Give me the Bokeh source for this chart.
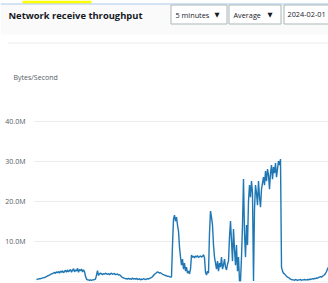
from bokeh.plotting import figure
from bokeh.layouts import column
from bokeh.models import Range1d, FixedTicker
from bokeh.embed import file_html
from bokeh.resources import INLINE
from bokeh.core.properties import value

# ---- data (MBytes/second, 5-minute averages) ----
seg_early = [0.4,0.5,0.5,0.6,0.6,0.7,0.8,0.8,0.9,1.0,1.1,1.3,1.4,1.5,1.7,1.8,1.9]
seg_morning = [2.0,2.2,1.9,2.3,2.1,2.4,2.0,2.5,2.2,2.6,2.1,2.4,2.7,2.2,2.8,2.3,
               2.6,2.9,2.2,2.7,3.1,2.3,2.8,2.5,3.2,2.2,2.9,2.6,3.0,2.3,2.8,2.4]
seg_dip1 = [1.2,0.5,0.3,0.3,0.2,0.3,0.2,0.3,0.3,0.4,0.5]
seg_bump1 = [1.5,2.6,1.4,1.8,2.0]
seg_mid1 = [1.8,1.6,1.9,1.7,2.0,1.8,1.7,1.9,1.6,1.8,2.0,1.7,1.8,1.9,1.6,1.7,1.8,1.5,1.6,1.4]
seg_fall1 = [1.1,0.9,0.8,0.7,0.6]
seg_low1 = [0.6,0.5,0.7,0.5,0.6,0.4,0.8,0.5,0.6,0.5,0.7,0.4,0.5,0.6,0.3,0.5,0.4,0.6,0.5,0.4,
            0.5,0.6,0.5,0.7,0.8]
seg_rise2 = [0.9,1.1,1.4,1.7,1.9,2.1,2.3,2.2,2.0,2.1]
seg_fall2 = [1.9,1.7,1.6,1.5,1.4,1.3,1.2,1.2,1.1,1.0,1.0]
seg_peak1 = [9.0,15.5,16.5,15.0,16.0,14.0,12.5]
seg_decay1 = [8.5,6.0,4.0,5.5,3.0,4.5,2.5,3.5]
seg_low2 = [2.0,2.5,1.8,3.0]
seg_plateau = [6.5,6.0,6.2,5.8,6.3,6.0,6.4,5.9,6.1,6.3,6.0,6.2,6.6,5.8]
seg_low3 = [2.2,1.5,2.5,2.0]
seg_peak2 = [12.0,17.5,16.0,14.0,9.0,6.0,4.5]
seg_noisy1 = [3.0,5.0,2.5,4.5,3.5,6.0,3.0,4.0,5.5,3.5,2.8,4.2,5.0]
seg_noisy2 = [11.0,15.0,10.0,5.0,13.0,8.0,4.0,9.0,2.5,6.0,0.0]
seg_gap1 = [0.0,6.0,14.0]
seg_spike = [25.5,12.0,6.0,14.0,9.0]
seg_high1 = [20.0,24.0,21.0,25.0,22.0]
seg_gap2 = [0.0]
seg_high2 = [18.0,24.0,22.0,19.0,25.0,21.0,18.5,23.0,24.5]
seg_high3 = [26.0,24.0,27.5,25.0,28.0,26.5,23.0,27.0,29.0,25.5,28.5,27.0,29.5,26.0,28.0,30.0,29.0]
seg_top = [30.5]
seg_drop = [3.5,2.5,2.0,1.8,1.5,1.2,1.0,0.9,0.7,0.5]
seg_night = [0.4,0.3,0.3,0.2,0.4,0.3,0.2,0.3,0.3,0.4,0.2,0.3,0.3,0.4,0.3,0.3,0.4,0.3,0.5,0.4]
seg_end = [0.5,0.6,0.5,0.7,0.6,0.8,0.7,0.9,1.0,1.1,1.0,1.2,1.4,1.6,1.9,2.4,3.0,3.5]

throughput_m = (seg_early + seg_morning + seg_dip1 + seg_bump1 + seg_mid1 + seg_fall1 +
                seg_low1 + seg_rise2 + seg_fall2 + seg_peak1 + seg_decay1 + seg_low2 +
                seg_plateau + seg_low3 + seg_peak2 + seg_noisy1 + seg_noisy2 + seg_gap1 +
                seg_spike + seg_high1 + seg_gap2 + seg_high2 + seg_high3 + seg_top +
                seg_drop + seg_night + seg_end)
period_index = list(range(len(throughput_m)))

y_ticks = [0, 10, 20, 30, 40]
y_tick_labels = {0: "", 10: "10.0M", 20: "20.0M", 30: "30.0M", 40: "40.0M"}

title_text = "Network receive throughput"
period_text = "5 minutes"
stat_text = "Average"
date_text = "2024-02-01"
unit_text = "Bytes/Second"

FONT = "Open Sans"
W = 328
HEAD_H = 95
MAIN_H = 283 - HEAD_H

# ---- header (pixel coordinates, y pointing down) ----
h = figure(width=W, height=HEAD_H, x_range=Range1d(0, W), y_range=Range1d(HEAD_H, 0),
           output_backend="svg", toolbar_location=None, min_border=0,
           outline_line_color=None, x_axis_location=None, y_axis_location=None)
h.frame_align = False
h.grid.visible = False
h.quad(left=[0], right=[W], top=[4], bottom=[34], fill_color="#fafafa", line_color=None)
h.quad(left=[22], right=[91], top=[0], bottom=[3], fill_color="#ffff00", line_color=None)
h.segment(x0=[0], y0=[3.5], x1=[W], y1=[3.5], line_color="#a9c9ea", line_width=1)
h.segment(x0=[7], y0=[42.5], x1=[W], y1=[42.5], line_color="#eaeded", line_width=1)
h.text(x=[8], y=[15], text=[title_text], text_font=value(FONT), text_font_style="bold",
       text_font_size="9.4px", text_color="#16191f", text_baseline="middle")
box_l = [170.5, 228.5, 283.5]
box_r = [226.5, 280.5, 345]
h.quad(left=box_l, right=box_r, top=[4.5]*3, bottom=[23.5]*3, fill_color="white",
       line_color="#aab7b8", line_width=1)
h.text(x=[175, 233, 287], y=[14, 14, 14], text=[period_text, stat_text, date_text],
       text_font=value(FONT), text_font_size="7.3px", text_color="#16191f",
       text_baseline="middle")
h.text(x=[214, 267], y=[14, 14], text=["▼", "▼"], text_font=value("DejaVu Sans"),
       text_font_size="6.5px", text_color="#16191f", text_baseline="middle")
h.text(x=[13], y=[77], text=[unit_text], text_font=value(FONT), text_font_size="7px",
       text_color="#545b64", text_baseline="middle")

# ---- main chart ----
frame_top = 100 - HEAD_H
frame_bottom_pad = 2
frame_h = MAIN_H - frame_top - frame_bottom_pad
n = len(throughput_m)
p = figure(width=W, height=MAIN_H, output_backend="svg", toolbar_location=None,
           x_range=Range1d(-3, n - 1), y_range=Range1d(-0.1, -0.1 + frame_h / 4.0),
           min_border_left=33, min_border_right=0, min_border_top=frame_top,
           min_border_bottom=frame_bottom_pad, outline_line_color=None,
           x_axis_location=None)
p.frame_align = False
p.line(period_index, throughput_m, line_color="#1f77b4", line_width=1.4)
p.yaxis.ticker = FixedTicker(ticks=y_ticks)
p.yaxis.major_label_overrides = y_tick_labels
p.yaxis.axis_line_color = None
p.yaxis.major_tick_line_color = None
p.yaxis.minor_tick_line_color = None
p.yaxis.major_label_standoff = 2
p.yaxis.major_label_text_font = FONT
p.yaxis.major_label_text_font_size = "7px"
p.yaxis.major_label_text_color = "#545b64"
p.xgrid.visible = False
p.ygrid.grid_line_color = "#eaeded"
p.ygrid.ticker = FixedTicker(ticks=y_ticks)

layout = column(h, p, spacing=0)
open("out.html", "w").write(file_html(layout, INLINE))
